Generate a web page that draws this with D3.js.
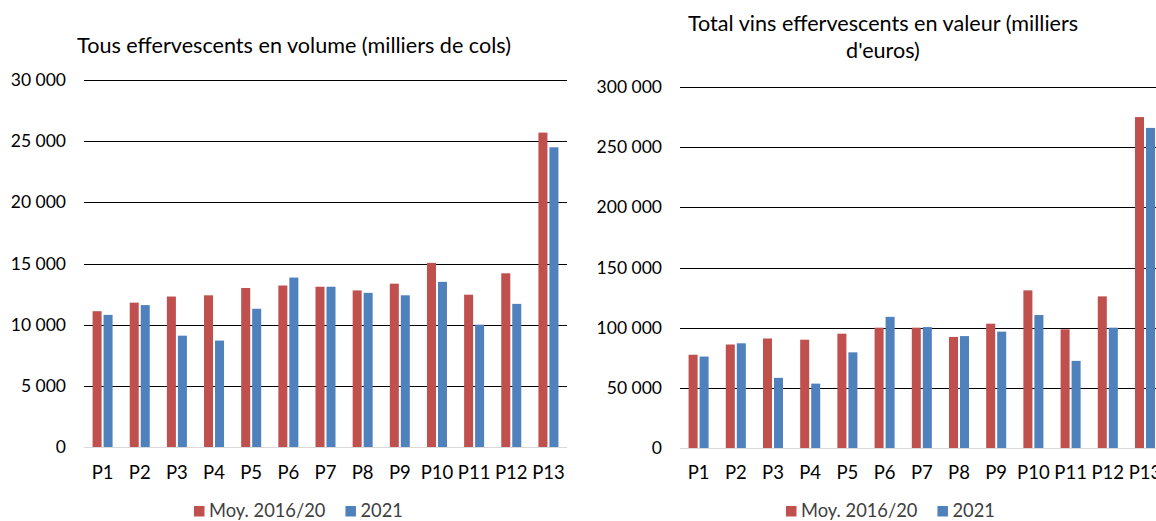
<!DOCTYPE html>
<html><head><meta charset="utf-8">
<script src="https://cdn.jsdelivr.net/npm/d3@7"></script>
<style>
html,body{margin:0;padding:0;background:#fff;}
svg{display:block;font-family:Lato,"Open Sans",sans-serif;}
</style></head>
<body>
<svg id="chart" width="1156" height="521"></svg>
<script>
const categories = ["P1","P2","P3","P4","P5","P6","P7","P8","P9","P10","P11","P12","P13"];
const seriesNames = ["Moy. 2016/20","2021"];
const volumeAvg  = [11100,11800,12300,12400,13000,13200,13100,12800,13350,15050,12450,14200,25700];
const volume2021 = [10800,11600,9100,8700,11300,13850,13100,12600,12400,13500,10000,11700,24500];
const valueAvg   = [77500,86000,91000,90000,95000,100000,100000,92300,103300,131000,98600,126000,275000];
const value2021  = [76000,87000,58300,53500,79500,109000,100500,93000,96700,110500,72400,100000,266000];
const volumeTicks = [0,5000,10000,15000,20000,25000,30000];
const valueTicks  = [0,50000,100000,150000,200000,250000,300000];
const volumeTitle = ["Tous effervescents en volume (milliers de cols)"];
const valueTitle  = ["Total vins effervescents en valeur (milliers","d'euros)"];
const colors = ["#C0504D","#4F81BD"];

const fr = d3.formatLocale({decimal:",", thousands:"\u00a0", grouping:[3], currency:["","€"]});
const fmt = fr.format(",.0f");

const svg = d3.select("#chart");
const TICK_FS = 17.5, CAT_FS = 18.5, TITLE_FS = 21.6, LEG_FS = 18.3;

function drawChart(cfg){
  const g = svg.append("g");
  const x = d3.scaleBand().domain(categories).range([cfg.x0, cfg.x1]);
  const xs = d3.scaleBand().domain(seriesNames).range([0, x.bandwidth()]).paddingInner(0.18).paddingOuter(0.78);
  const y = d3.scaleLinear().domain([0, cfg.max]).range([cfg.yBottom, cfg.yTop]);

  g.selectAll("line.grid").data(cfg.ticks).join("line")
    .attr("x1", cfg.x0).attr("x2", cfg.x1)
    .attr("y1", d => Math.round(y(d)) + 0.5).attr("y2", d => Math.round(y(d)) + 0.5)
    .attr("stroke", d => d === 0 ? "#D9D9D9" : "#000").attr("stroke-width", 1);

  g.selectAll("text.yt").data(cfg.ticks).join("text")
    .attr("x", cfg.x0 - 18).attr("y", d => y(d)).attr("dy", "0.35em")
    .attr("text-anchor", "end").attr("font-size", TICK_FS).attr("fill", "#000")
    .text(d => fmt(d));

  const rows = categories.map((c,i) => ({c, vals:[cfg.a[i], cfg.b[i]]}));
  const grp = g.selectAll("g.cat").data(rows).join("g").attr("transform", d => `translate(${x(d.c)},0)`);
  grp.selectAll("rect").data(d => d.vals.map((v,j) => ({s:seriesNames[j], v, j}))).join("rect")
    .attr("x", d => xs(d.s)).attr("width", xs.bandwidth())
    .attr("y", d => y(d.v)).attr("height", d => y(0) - y(d.v))
    .attr("fill", d => colors[d.j]);

  g.selectAll("text.xt").data(categories).join("text")
    .attr("x", d => x(d) + x.bandwidth()/2).attr("y", 479)
    .attr("text-anchor", "middle").attr("font-size", CAT_FS).attr("fill", "#000")
    .text(d => d);

  g.selectAll("text.title").data(cfg.title).join("text")
    .attr("x", cfg.titleX).attr("y", (d,i) => cfg.titleY + i*27.6)
    .attr("text-anchor", "middle").attr("font-size", TITLE_FS).attr("fill", "#000")
    .text(d => d);

  const lg = g.append("g");
  let lx = cfg.legendX;
  seriesNames.forEach((s,j) => {
    lg.append("rect").attr("x", lx).attr("y", 506).attr("width", 10.5).attr("height", 10.5).attr("fill", colors[j]);
    const t = lg.append("text").attr("x", lx + 15).attr("y", 516.5).attr("font-size", LEG_FS).attr("fill", "#404040").text(s);
    lx += 15 + t.node().getComputedTextLength() + 20;
  });
}

drawChart({x0:84, x1:567, yTop:80, yBottom:447, max:30000, ticks:volumeTicks, a:volumeAvg, b:volume2021,
  title:volumeTitle, titleX:294, titleY:52.5, legendX:194});
drawChart({x0:680, x1:1163.6, yTop:87, yBottom:448, max:300000, ticks:valueTicks, a:valueAvg, b:value2021,
  title:valueTitle, titleX:883, titleY:30.7, legendX:786});
</script>
</body></html>
